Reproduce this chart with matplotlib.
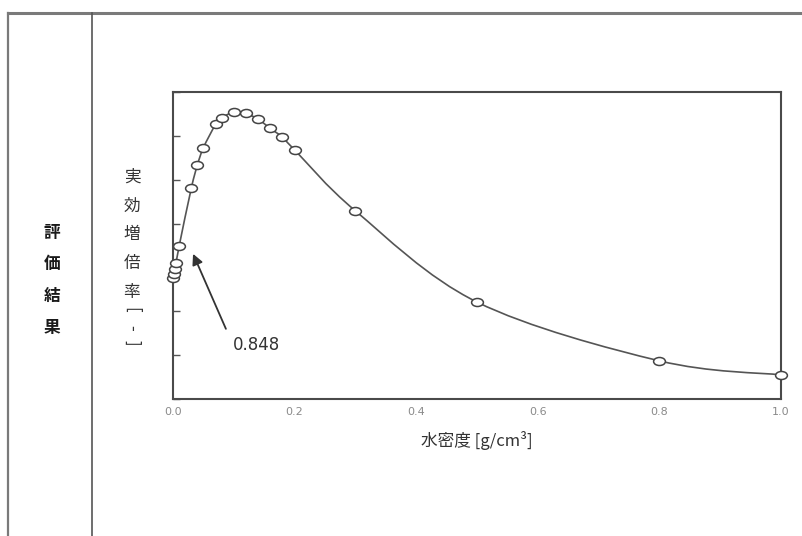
import numpy as np
import matplotlib
matplotlib.use('Agg')
import matplotlib.pyplot as plt
from matplotlib.path import Path
from matplotlib.patches import PathPatch
from matplotlib.lines import Line2D

plt.rcParams['font.family'] = ['Noto Sans CJK JP', 'DejaVu Sans']

# 水密度 [g/cm3]
density = [0.0, 0.001, 0.003, 0.005, 0.01, 0.03, 0.04, 0.05, 0.07, 0.08,
           0.10, 0.12, 0.14, 0.16, 0.18, 0.20, 0.30, 0.50, 0.80, 1.00]
# 実効増倍率
keff = [0.776, 0.785, 0.796, 0.809, 0.848, 0.980, 1.033, 1.073, 1.126, 1.141,
        1.154, 1.151, 1.138, 1.117, 1.097, 1.068, 0.929, 0.721, 0.587, 0.555]
xticks = [0.0, 0.2, 0.4, 0.6, 0.8, 1.0]
yticks = [0.5, 0.6, 0.7, 0.8, 0.9, 1.0, 1.1, 1.2]
note_val = 0.848


def smooth_path(x, y):
    # Excelの平滑線に近いCatmull-Rom -> ベジェ
    pts = np.column_stack([x, y])
    n = len(pts)
    verts = [pts[0]]
    codes = [Path.MOVETO]
    for i in range(n - 1):
        p0 = pts[max(i - 1, 0)]
        p1 = pts[i]
        p2 = pts[i + 1]
        p3 = pts[min(i + 2, n - 1)]
        c1 = p1 + (p2 - p0) / 6
        c2 = p2 - (p3 - p1) / 6
        verts += [c1, c2, p2]
        codes += [Path.CURVE4] * 3
    return Path(verts, codes)


fig = plt.figure(figsize=(8.03, 5.36), dpi=100)

# 表の罫線
fig.add_artist(Line2D([8 / 803, 1], [1 - 13 / 536] * 2, color='#7a7a7a', lw=2.2))
fig.add_artist(Line2D([8 / 803] * 2, [0, 1 - 13 / 536], color='#7a7a7a', lw=1.6))
fig.add_artist(Line2D([92 / 803] * 2, [0, 1 - 13 / 536], color='#555555', lw=1.2))

for i, ch in enumerate("評価結果"):
    fig.text(52 / 803, 1 - (233 + 31.5 * i) / 536, ch, ha='center', va='center',
             fontsize=12, fontweight='bold', color='#1a1a1a')

ax = fig.add_axes([173 / 803, 1 - 399 / 536, 608 / 803, 307 / 536])

ellipse = Path(Path.unit_circle().vertices * [1.0, 0.68], Path.unit_circle().codes)
ax.add_patch(PathPatch(smooth_path(density, keff), fill=False, ec='#555555', lw=1.2))
ax.plot(density, keff, ls='none', marker=ellipse, ms=8.5, mfc='white', mec='#444444',
        mew=1.1, clip_on=False, zorder=3)

ax.set_xlim(0, 1.0)
ax.set_ylim(0.5, 1.2)
ax.set_xticks(xticks)
ax.set_xticklabels([f"{v:.1f}" for v in xticks], family='DejaVu Sans', fontsize=8,
                   color='#8a8a8a')
ax.tick_params(axis='x', length=0, pad=6)
ax.set_yticks(yticks)
ax.set_yticklabels([])
ax.tick_params(axis='y', direction='in', length=5, color='#555555', width=1)
for s in ax.spines.values():
    s.set_color('#4a4a4a')
    s.set_linewidth(1.5)

ax.set_xlabel("水密度 [g/cm³]", fontsize=12, color='#333333', labelpad=10)

ylab = ["実", "効", "増", "倍", "率", "[", "-", "]"]
ypos = [177, 206, 235, 263, 292, 310, 328, 343]
for ch, yy in zip(ylab, ypos):
    rot = -90 if ch in "[-]" else 0
    fig.text(132 / 803, 1 - yy / 536, ch, ha='center', va='center', fontsize=12,
             color='#333333', rotation=rot)

ax.text(0.137, 0.623, f"{note_val}", fontsize=12, family='DejaVu Sans',
        color='#333333', ha='center', va='center')
ax.annotate("", xy=(0.033, 0.831), xytext=(0.087, 0.66),
            arrowprops=dict(arrowstyle='-|>', color='#333333', lw=1.3,
                            mutation_scale=16, shrinkA=0, shrinkB=0))

fig.savefig("out.png", dpi=100)
